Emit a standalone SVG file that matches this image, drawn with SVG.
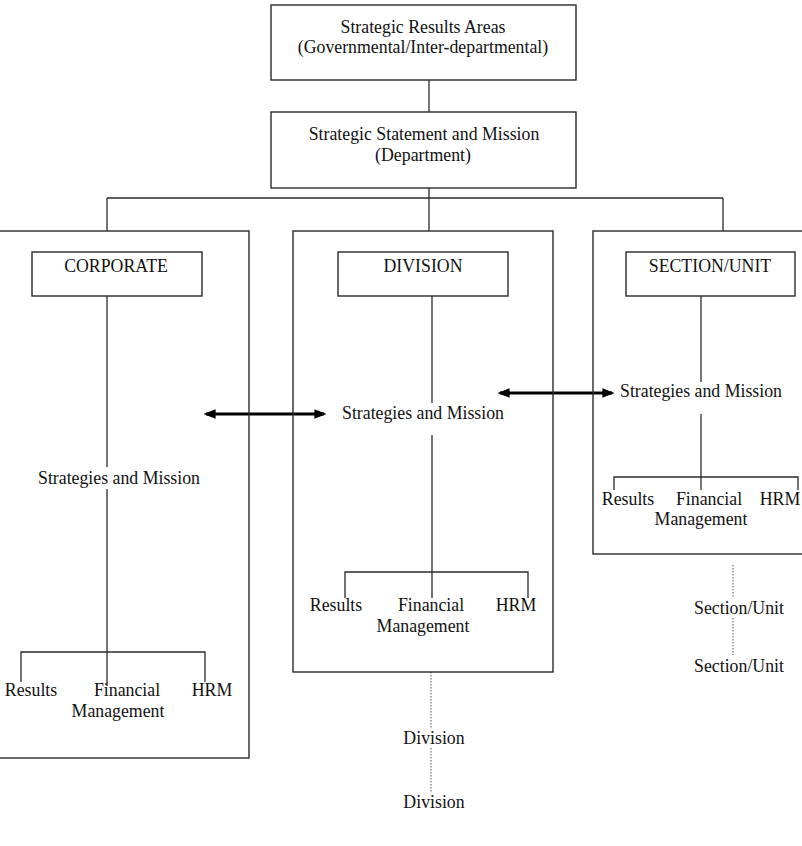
<svg xmlns="http://www.w3.org/2000/svg" width="802" height="846" viewBox="0 0 802 846">
<style>
.box{fill:none;stroke:#2a2a2a;stroke-width:1.4}
.ln{fill:none;stroke:#2a2a2a;stroke-width:1.3}
.dot{fill:none;stroke:#555;stroke-width:1;stroke-dasharray:1.5 1.5}
.arr{fill:none;stroke:#000;stroke-width:3}
text{font-family:"Liberation Serif","Times New Roman",serif;font-size:17.8px;fill:#111;text-anchor:middle}
</style>
<defs>
<marker id="ah" viewBox="0 0 10 10" refX="8" refY="5" markerWidth="4" markerHeight="4" orient="auto-start-reverse" markerUnits="strokeWidth">
<path d="M0,1 L10,5 L0,9 Z" fill="#000"/>
</marker>
</defs>
<rect width="802" height="846" fill="#fff"/>
<g id="connectors">
<line class="ln" x1="429" y1="80" x2="429" y2="112"/>
<line class="ln" x1="429" y1="188" x2="429" y2="231"/>
<line class="ln" x1="107" y1="198" x2="723" y2="198"/>
<line class="ln" x1="107" y1="198" x2="107" y2="231"/>
<line class="ln" x1="723" y1="198" x2="723" y2="231"/>
<!-- corporate -->
<line class="ln" x1="107" y1="296" x2="107" y2="467"/>
<line class="ln" x1="107" y1="489" x2="107" y2="686"/>
<polyline class="ln" points="21,682 21,652 205,652 205,682"/>
<!-- division -->
<line class="ln" x1="432" y1="296" x2="432" y2="403"/>
<line class="ln" x1="432" y1="435" x2="432" y2="598"/>
<polyline class="ln" points="345,598 345,572 528,572 528,598"/>
<line class="dot" x1="431" y1="672" x2="431" y2="728"/>
<line class="dot" x1="431" y1="748" x2="431" y2="792"/>
<!-- section -->
<line class="ln" x1="701" y1="296" x2="701" y2="382"/>
<line class="ln" x1="701" y1="414" x2="701" y2="490"/>
<polyline class="ln" points="614,490 614,477 798,477 798,490"/>
<line class="dot" x1="733" y1="565" x2="733" y2="598"/>
<line class="dot" x1="733" y1="618" x2="733" y2="655"/>
<!-- arrows -->
<line class="arr" x1="206" y1="414" x2="324" y2="414" marker-start="url(#ah)" marker-end="url(#ah)"/>
<line class="arr" x1="500" y1="393" x2="612" y2="393" marker-start="url(#ah)" marker-end="url(#ah)"/>
</g>
<g id="sra">
<rect class="box" x="271" y="5" width="305" height="75"/>
<text x="423" y="33">Strategic Results Areas</text>
<text x="423" y="53">(Governmental/Inter-departmental)</text>
</g>
<g id="ssm">
<rect class="box" x="271" y="112" width="305" height="76"/>
<text x="424" y="140">Strategic Statement and Mission</text>
<text x="423" y="161">(Department)</text>
</g>
<g id="corporate">
<rect class="box" x="-2" y="231" width="251" height="527"/>
<rect class="box" x="32" y="252" width="170" height="44"/>
<text x="116" y="272">CORPORATE</text>
<text x="119" y="484">Strategies and Mission</text>
<text x="31" y="696">Results</text>
<text x="127" y="696">Financial</text>
<text x="212" y="696">HRM</text>
<text x="118" y="717">Management</text>
</g>
<g id="division">
<rect class="box" x="293" y="231" width="260" height="441"/>
<rect class="box" x="338" y="252" width="170" height="44"/>
<text x="423" y="272">DIVISION</text>
<text x="423" y="419">Strategies and Mission</text>
<text x="336" y="611">Results</text>
<text x="431" y="611">Financial</text>
<text x="516" y="611">HRM</text>
<text x="423" y="632">Management</text>
<text x="434" y="744">Division</text>
<text x="434" y="808">Division</text>
</g>
<g id="section">
<rect class="box" x="593" y="231" width="212" height="323"/>
<rect class="box" x="626" y="252" width="169" height="44"/>
<text x="710" y="272">SECTION/UNIT</text>
<text x="701" y="397">Strategies and Mission</text>
<text x="628" y="505">Results</text>
<text x="709" y="505">Financial</text>
<text x="780" y="505">HRM</text>
<text x="701" y="525">Management</text>
<text x="739" y="614">Section/Unit</text>
<text x="739" y="672">Section/Unit</text>
</g>
</svg>
